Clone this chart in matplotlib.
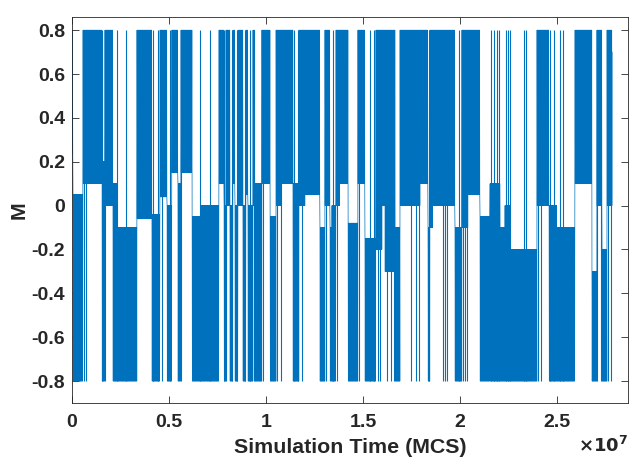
import matplotlib
matplotlib.use("Agg")
import matplotlib.pyplot as plt
import numpy as np
from matplotlib.ticker import FuncFormatter

# M(t). Time in units of 1e7 MCS.
# dwell bands: from seg_start[i] the trace fills [seg_lo[i], seg_hi[i]]
seg_start = [0.000, 0.005, 0.057, 0.155, 0.170, 0.211, 0.237, 0.335, 0.412, 0.454,
             0.490, 0.515, 0.546, 0.562, 0.619, 0.665, 0.758, 0.784, 0.794, 0.814,
             0.830, 0.840, 0.856, 0.881, 0.897, 0.907, 0.933, 0.943, 0.979, 1.021,
             1.052, 1.082, 1.139, 1.170, 1.201, 1.278, 1.304, 1.330, 1.340, 1.361,
             1.381, 1.423, 1.474, 1.510, 1.567, 1.598, 1.613, 1.665, 1.691, 1.794,
             1.835, 1.845, 1.861, 1.974, 2.010, 2.041, 2.103, 2.155, 2.206, 2.232,
             2.263, 2.397, 2.459, 2.500, 2.593, 2.680, 2.706, 2.732, 2.758]
seg_hi = [0.80, 0.05, 0.80, 0.20, 0.80, 0.10, -0.10, 0.80, -0.04, 0.80,
          0.00, 0.80, 0.10, 0.80, -0.05, 0.00, 0.80, 0.00, 0.80, 0.00,
          0.80, 0.00, 0.80, 0.00, 0.80, 0.00, 0.80, 0.10, 0.80, -0.05,
          0.80, 0.80, 0.10, 0.80, 0.80, -0.10, 0.80, -0.10, 0.00, 0.80,
          0.80, -0.08, 0.80, -0.15, 0.80, 0.80, 0.80, -0.10, 0.80, 0.80,
          -0.10, 0.80, 0.80, -0.10, 0.80, 0.80, -0.05, 0.10, -0.10, 0.00,
          -0.20, 0.80, 0.00, -0.10, 0.80, -0.30, 0.80, -0.20, 0.80]
seg_lo = [0.24, -0.80, 0.10, -0.80, 0.00, -0.80, -0.80, -0.06, -0.80, 0.04,
          -0.80, 0.15, -0.80, 0.15, -0.80, -0.80, 0.10, -0.80, 0.00, -0.80,
          0.10, -0.80, 0.00, -0.80, 0.05, -0.80, 0.00, -0.80, 0.10, -0.80,
          0.00, 0.10, -0.80, 0.00, 0.05, -0.80, 0.00, -0.80, -0.80, 0.00,
          0.10, -0.80, 0.10, -0.80, -0.20, 0.00, -0.30, -0.80, 0.00, 0.10,
          -0.80, -0.10, 0.00, -0.80, -0.10, 0.05, -0.80, -0.80, -0.80, -0.80,
          -0.80, 0.00, -0.80, -0.80, 0.10, -0.80, 0.00, -0.80, 0.00]
t_end = 2.784
m_end = 0.70

# single full-range flips (+0.8 <-> -0.8) seen as thin strokes
flip_t = [0.0593, 0.0696, 0.157, 0.1675, 0.232, 0.276, 0.4149, 0.4407, 0.464, 0.5026,
          0.5619, 0.6598, 0.7088, 0.7835, 0.7938, 0.8222, 0.848, 0.8892, 0.9149, 0.938,
          0.9845, 1.0567, 1.0773, 1.1443, 1.1649, 1.1856, 1.3093, 1.3454, 1.366, 1.4794,
          1.5361, 1.5567, 1.5773, 1.5876, 1.6237, 1.6443, 1.6598, 1.7474, 1.7732, 1.7887,
          1.8402, 1.9124, 1.9227, 1.933, 1.9948, 2.0155, 2.0258, 2.0361, 2.1598, 2.1753,
          2.1907, 2.201, 2.2371, 2.2474, 2.2577, 2.3299, 2.3402, 2.4021, 2.4175, 2.4639,
          2.4845, 2.5155, 2.531, 2.7062, 2.7268, 2.7629, 2.7784]
flip_hi = 0.80
flip_lo = -0.80

# expand each band into the back-and-forth trace the plot shows
edges = seg_start + [t_end]
t, m = [], []
for i in range(len(seg_start)):
    n = max(2, int(round((edges[i + 1] - edges[i]) / 0.0012)))
    ts = np.linspace(edges[i], edges[i + 1], n, endpoint=False)
    t.extend(ts)
    m.extend(np.where(np.arange(n) % 2 == 0, seg_hi[i], seg_lo[i]))
t.append(t_end)
m.append(m_end)
t = np.array(t) * 1e7
m = np.array(m)

plt.rcParams['font.family'] = ['Liberation Sans', 'DejaVu Sans']
plt.rcParams['font.weight'] = 'bold'

fig = plt.figure(figsize=(6.34, 4.59), dpi=100)
ax = fig.add_axes([0.1136, 0.122, 0.877, 0.841])
ax.plot(t, m, color='#0072BD', linewidth=0.5)
ax.vlines(np.array(flip_t) * 1e7, flip_lo, flip_hi, color='#0072BD', linewidth=0.8)

ax.set_xlim(0, 2.866e7)
ax.set_ylim(-0.9, 0.86)
ax.set_xticks(np.arange(0, 3.0e7, 0.5e7))
ax.set_yticks(np.arange(-0.8, 0.81, 0.2))
ax.xaxis.set_major_formatter(FuncFormatter(lambda v, p: f"{v / 1e7:g}"))
ax.yaxis.set_major_formatter(FuncFormatter(lambda v, p: f"{round(v, 1) + 0.0:g}"))
ax.tick_params(direction='in', top=True, right=True, length=5, width=0.6,
               colors='#262626', labelsize=14)
ax.tick_params(axis='x', pad=8)
ax.tick_params(axis='y', pad=5)
for s in ax.spines.values():
    s.set_color('#262626')
    s.set_linewidth(0.6)

ax.set_xlabel('Simulation Time (MCS)', fontsize=15.4, fontweight='bold',
              color='#262626', labelpad=5)
ax.set_ylabel('M', fontsize=15.4, fontweight='bold', color='#262626', labelpad=2)
ax.text(1.0, -0.136, r'$\times\mathbf{10^{7}}$', transform=ax.transAxes,
        ha='right', va='bottom', fontsize=13, color='#262626')

fig.savefig('out.png', dpi=100)
